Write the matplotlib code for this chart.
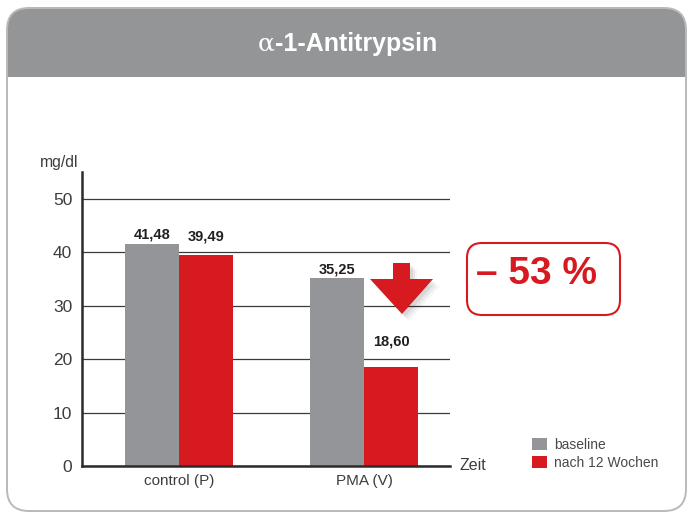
import matplotlib
matplotlib.use('Agg')
import matplotlib.pyplot as plt
from matplotlib.patches import FancyBboxPatch, Rectangle, Polygon
import numpy as np

# ---- data ----
categories = ['control (P)', 'PMA (V)']
series_names = ['baseline', 'nach 12 Wochen']
baseline = [41.48, 35.25]
after12 = [39.49, 18.60]
baseline_labels = ['41,48', '35,25']
after_labels = ['39,49', '18,60']
yticks = [0, 10, 20, 30, 40, 50]
title_greek = 'α'
title_rest = '-1-Antitrypsin'
change_text = '– 53 %'
y_unit = 'mg/dl'
x_unit = 'Zeit'

# ---- style ----
GRAY = '#939598'
RED = '#d71920'
HEADER = '#939596'
TXT = '#3d3d3d'
W, H = 689, 514

plt.rcParams['font.family'] = ['Liberation Sans', 'DejaVu Sans']
fig = plt.figure(figsize=(W / 100, H / 100), dpi=100)

# background axes in pixel coords (y down)
bg = fig.add_axes([0, 0, 1, 1], zorder=-1)
bg.set_xlim(0, W); bg.set_ylim(H, 0); bg.axis('off')

fx0, fy0, fx1, fy1 = 7, 8, 686, 511
header_bottom = 77
hdr = FancyBboxPatch((fx0, fy0), fx1 - fx0, fy1 - fy0,
                     boxstyle='round,pad=0,rounding_size=22',
                     facecolor=HEADER, edgecolor='none')
bg.add_patch(hdr)
clip = Rectangle((0, 0), W, header_bottom, transform=bg.transData)
hdr.set_clip_path(clip)
frame = FancyBboxPatch((fx0, fy0), fx1 - fx0, fy1 - fy0,
                       boxstyle='round,pad=0,rounding_size=22',
                       facecolor='none', edgecolor='#b9b9b9', lw=1.4)
bg.add_patch(frame)

# title
t1 = bg.text(0, 44, title_greek, color='white', fontsize=18,
             family=['DejaVu Serif'], va='center', ha='left')
t2 = bg.text(0, 44, title_rest, color='white', fontsize=18,
             fontweight='bold', va='center', ha='left')
r = fig.canvas.get_renderer()
w1 = t1.get_window_extent(r).width
w2 = t2.get_window_extent(r).width
start = 347 - (w1 + w2) / 2
t1.set_x(start)
t2.set_x(start + w1 + 1)

# ---- chart axes ----
ax_l, ax_r, ax_b, ax_t = 82, 450, 466, 172
ax = fig.add_axes([ax_l / W, (H - ax_b) / H, (ax_r - ax_l) / W, (ax_b - ax_t) / H])
ax.patch.set_alpha(0)
x = np.arange(len(categories))
bw = 0.292
b1 = ax.bar(x - bw / 2, baseline, bw, color=GRAY, label=series_names[0], zorder=2)
b2 = ax.bar(x + bw / 2, after12, bw, color=RED, label=series_names[1], zorder=2)
ax.set_xlim(-0.524, 1.465)
ax.set_ylim(0, 55)
ax.set_yticks(yticks)
ax.set_xticks(x)
ax.set_xticklabels(categories)
ax.yaxis.grid(True, color='#3a3a3a', lw=0.9, zorder=0)
ax.set_axisbelow(True)
for s in ['top', 'right']:
    ax.spines[s].set_visible(False)
for s in ['left', 'bottom']:
    ax.spines[s].set_linewidth(1.8)
    ax.spines[s].set_color('#2b2b2b')
ax.tick_params(axis='y', length=0, pad=7, labelsize=12.5, labelcolor=TXT)
ax.tick_params(axis='x', length=0, pad=6, labelsize=11, labelcolor=TXT)

# value labels
offs_b = [10, 8]
offs_a = [18, 25]
for i in range(len(categories)):
    ax.annotate(baseline_labels[i], (x[i] - bw / 2, baseline[i]),
                xytext=(0, offs_b[i]), textcoords='offset pixels',
                ha='center', va='center', fontsize=10.5, fontweight='bold', color='#231f20')
    ax.annotate(after_labels[i], (x[i] + bw / 2, after12[i]),
                xytext=(0, offs_a[i]), textcoords='offset pixels',
                ha='center', va='center', fontsize=10.5, fontweight='bold', color='#231f20')

# legend
ax.legend(handles=[b1, b2], labels=series_names, loc='upper left',
          bbox_to_anchor=(525 / W, (H - 431) / H), bbox_transform=fig.transFigure,
          frameon=False, fontsize=10, handlelength=1.05, handleheight=0.95,
          handletextpad=0.55, labelspacing=0.3, borderpad=0, labelcolor='#4a4a4a')

# ---- overlay (pixel coords) ----
ov = fig.add_axes([0, 0, 1, 1], zorder=3)
ov.set_xlim(0, W); ov.set_ylim(H, 0); ov.axis('off'); ov.patch.set_alpha(0)

ov.text(40, 163, y_unit, fontsize=11.3, color=TXT, ha='left', va='center')
ov.text(459, 466, x_unit, fontsize=11.5, color=TXT, ha='left', va='center')

arrow = [(393, 263), (410, 263), (410, 279), (433, 279), (402, 314),
         (370, 279), (393, 279)]
for k, a in [(7, 0.04), (5, 0.05), (3, 0.07)]:
    ov.add_patch(Polygon([(px + k, py + k) for px, py in arrow], closed=True,
                         facecolor='black', edgecolor='none', alpha=a))
ov.add_patch(Polygon(arrow, closed=True, facecolor=RED, edgecolor='none'))

box = FancyBboxPatch((467, 243), 153, 72, boxstyle='round,pad=0,rounding_size=15',
                     facecolor='white', edgecolor=RED, lw=1.5)
ov.add_patch(box)
ov.text(537, 274, change_text, fontsize=28, fontweight='bold', color=RED,
        ha='center', va='center')

fig.savefig('out.png', dpi=100)
